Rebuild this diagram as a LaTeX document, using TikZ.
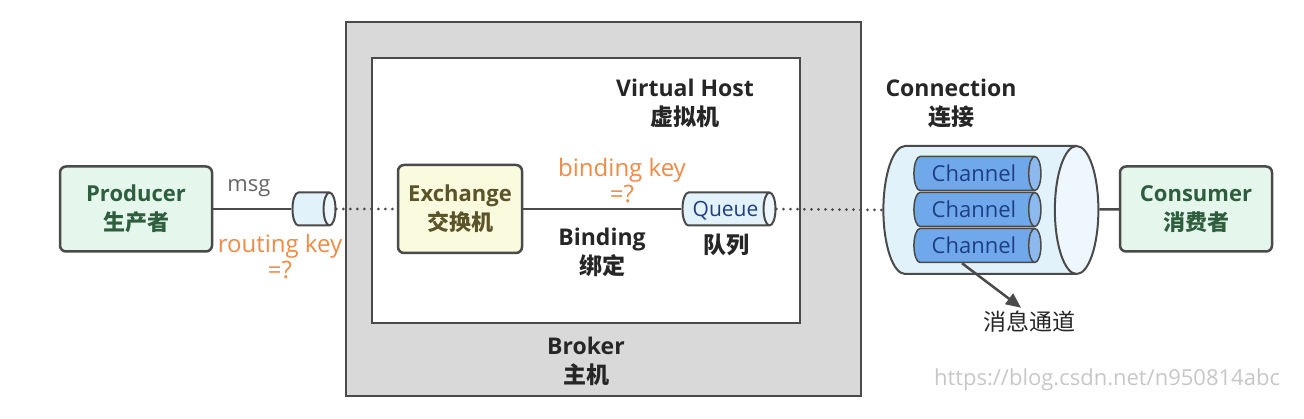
\documentclass[tikz,border=0pt]{standalone}
\usepackage{fontspec}
\setmainfont{Open Sans}
\newfontfamily\cjk{Noto Sans CJK SC}
\usetikzlibrary{shapes.geometric,arrows.meta,positioning}

\definecolor{linegray}{HTML}{4A4A4A}
\definecolor{brokerfill}{HTML}{D9D9D9}
\definecolor{rolefill}{HTML}{E5F7EC}
\definecolor{roletext}{HTML}{2F5E3E}
\definecolor{exfill}{HTML}{FAFADF}
\definecolor{extext}{HTML}{5A5428}
\definecolor{pipefill}{HTML}{E2F2FB}
\definecolor{chanfill}{HTML}{6FA9EB}
\definecolor{bluetext}{HTML}{1F3F85}
\definecolor{keyorange}{HTML}{F08A44}

\tikzset{
  rolebox/.style={draw=linegray, line width=2.5pt, rounded corners=6pt, fill=rolefill,
    minimum width=152pt, minimum height=85pt, align=center, text=roletext,
    font=\fontsize{22}{29}\selectfont\bfseries},
  pipe/.style={cylinder, draw=linegray, line width=2pt, inner sep=0pt,
    cylinder uses custom fill, cylinder body fill=pipefill, cylinder end fill=pipefill!60!white,
    aspect=0.36, text=bluetext, font=\fontsize{21}{24}\selectfont},
  chan/.style={pipe, line width=1.5pt, cylinder body fill=chanfill, cylinder end fill=chanfill!80!white,
    minimum height=127pt, minimum width=34pt, font=\fontsize{22}{24}\selectfont},
  title/.style={align=center, text=black!85, font=\fontsize{23}{29}\selectfont\bfseries},
  keytext/.style={align=center, text=keyorange, font=\fontsize{24}{26}\selectfont},
  link/.style={draw=linegray, line width=2.5pt},
  dotlink/.style={draw=linegray, line width=3pt, line cap=round, dash pattern=on 0pt off 7pt},
}

\begin{document}
\begin{tikzpicture}[x=1pt,y=-1pt]
  \useasboundingbox (0,0) rectangle (1304,419);
  % Broker and virtual host
  \node[draw=linegray, line width=2.5pt, fill=brokerfill, minimum width=515pt, minimum height=374pt] (broker) at (603.5,209) {};
  \node[draw=linegray, line width=2.5pt, fill=white, minimum width=428pt, minimum height=265pt] (vhost) at (586,190.5) {};
  \node[title] (vhostlbl) at (685,103) {Virtual Host\\{\cjk 虚拟机}};
  \node[title] (brokerlbl) at (586,361) {Broker\\{\cjk 主机}};
  % Producer side
  \node[rolebox] (producer) at (136,209) {Producer\\{\cjk 生产者}};
  \node[pipe, minimum height=43pt, minimum width=33pt] (routeq) at (310.5,209) {\rule[-16.5pt]{0pt}{33pt}};
  \node[text=black!60, font=\fontsize{22}{24}\selectfont] (msg) at (249,188) {msg};
  \node[keytext] (routekey) at (280,257) {routing key\\=?};
  % Exchange, binding, queue
  \node[rolebox, fill=exfill, text=extext, minimum width=124pt, minimum height=88pt] (exchange) at (460,209) {Exchange\\{\cjk 交换机}};
  \node[pipe, minimum height=93pt, minimum width=33pt] (queue) at (725.5,209) {\rule[-9pt]{0pt}{33pt}Queue\hspace{10pt}};
  \node[keytext] (bindkey) at (622,181) {binding key\\=?};
  \node[title] (binding) at (602,252) {Binding\\{\cjk 绑定}};
  \node[title, font=\fontsize{23}{29}\selectfont\bfseries\cjk] (queuelbl) at (726,245) {队列};
  % Connection with channels
  \node[pipe, line width=2pt, minimum height=215pt, minimum width=128pt, aspect=0.34] (conn) at (979.5,210) {\rule[-64pt]{0pt}{128pt}};
  \node[title] (connlbl) at (951,104) {Connection\\{\cjk 连接}};
  \node[chan] (ch1) at (974,173.5) {\rule[-9pt]{0pt}{34pt}Channel\hspace{8pt}};
  \node[chan] (ch2) at (974,209.5) {\rule[-9pt]{0pt}{34pt}Channel\hspace{8pt}};
  \node[chan] (ch3) at (974,245.5) {\rule[-9pt]{0pt}{34pt}Channel\hspace{8pt}};
  \node[text=black!85, font=\fontsize{23}{26}\selectfont\cjk] (msgch) at (1029,322) {消息通道};
  % Consumer
  \node[rolebox] (consumer) at (1196,209) {Consumer\\{\cjk 消费者}};
  % Connectors
  \draw[link] (producer) -- (routeq);
  \draw[dotlink] (routeq.east) -- (exchange.west);
  \draw[link] (exchange) -- (queue);
  \draw[dotlink] (queue.east) -- (conn.west);
  \draw[link] (conn) -- (consumer);
  \draw[link, -{Triangle[length=15pt,width=13pt]}] ([xshift=-12pt]ch3.south) -- ([xshift=-8pt]msgch.north);
  % Watermark
  \node[text=black!22, font=\fontsize{22}{24}\selectfont] (mark) at (1107,380) {https://blog.csdn.net/n950814abc};
\end{tikzpicture}
\end{document}
